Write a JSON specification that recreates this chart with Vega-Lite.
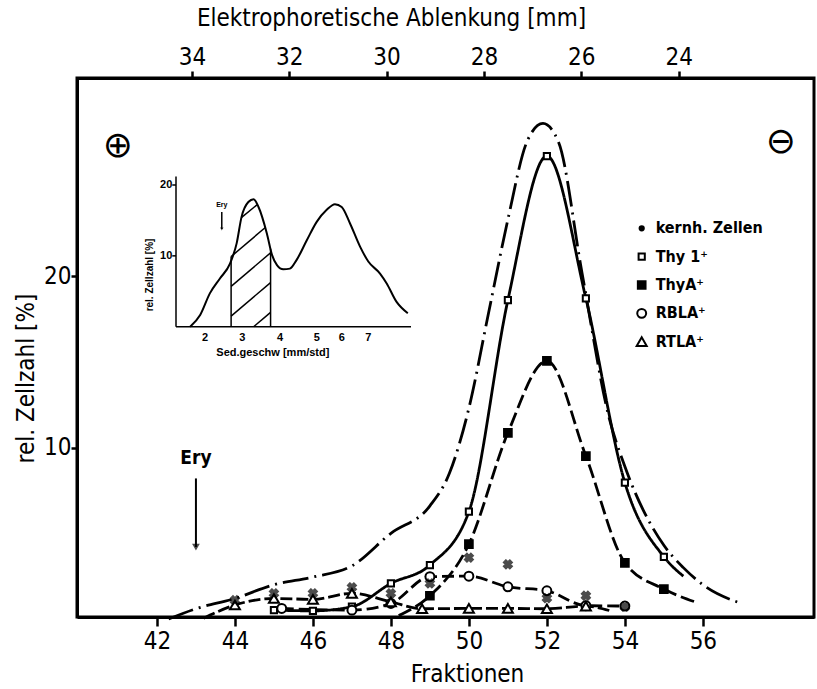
{
  "$schema": "https://vega.github.io/schema/vega-lite/v6.json",
  "width": 737,
  "height": 539,
  "autosize": "none",
  "padding": {"left": 77, "top": 78, "right": 3, "bottom": 72},
  "background": "white",
  "config": {
    "view": {"stroke": "black", "strokeWidth": 3},
    "font": "DejaVu Sans Condensed",
    "axis": {
      "labelFont": "DejaVu Sans Condensed",
      "labelFontSize": 24,
      "labelColor": "black",
      "titleFont": "DejaVu Sans Condensed",
      "titleFontSize": 24,
      "titleFontWeight": "normal",
      "titleColor": "black",
      "domainColor": "black",
      "domainWidth": 3,
      "tickColor": "black",
      "tickWidth": 2.5,
      "grid": false
    }
  },
  "datasets": {
    "curves": [
      {"s": "kernh. Zellen", "f": 42.3, "v": 0},
      {"s": "kernh. Zellen", "f": 43, "v": 0.6},
      {"s": "kernh. Zellen", "f": 44, "v": 1.2},
      {"s": "kernh. Zellen", "f": 45, "v": 2.0},
      {"s": "kernh. Zellen", "f": 46, "v": 2.45},
      {"s": "kernh. Zellen", "f": 47, "v": 3.1},
      {"s": "kernh. Zellen", "f": 48, "v": 5.0},
      {"s": "kernh. Zellen", "f": 49, "v": 6.6},
      {"s": "kernh. Zellen", "f": 49.5, "v": 8.5},
      {"s": "kernh. Zellen", "f": 50, "v": 12.3},
      {"s": "kernh. Zellen", "f": 50.5, "v": 17.8},
      {"s": "kernh. Zellen", "f": 51, "v": 23.3},
      {"s": "kernh. Zellen", "f": 51.5, "v": 27.9},
      {"s": "kernh. Zellen", "f": 51.9, "v": 28.9},
      {"s": "kernh. Zellen", "f": 52.3, "v": 27.8},
      {"s": "kernh. Zellen", "f": 52.9, "v": 20.2},
      {"s": "kernh. Zellen", "f": 53.6, "v": 11.7},
      {"s": "kernh. Zellen", "f": 54, "v": 8.9},
      {"s": "kernh. Zellen", "f": 55, "v": 4.3},
      {"s": "kernh. Zellen", "f": 55.5, "v": 3.0},
      {"s": "kernh. Zellen", "f": 56, "v": 2.0},
      {"s": "kernh. Zellen", "f": 57, "v": 0.9},
      {"s": "Thy 1⁺", "f": 45, "v": 0.52},
      {"s": "Thy 1⁺", "f": 46, "v": 0.48},
      {"s": "Thy 1⁺", "f": 47, "v": 0.72},
      {"s": "Thy 1⁺", "f": 48, "v": 2.08},
      {"s": "Thy 1⁺", "f": 49, "v": 3.15},
      {"s": "Thy 1⁺", "f": 50, "v": 6.26},
      {"s": "Thy 1⁺", "f": 51, "v": 18.6},
      {"s": "Thy 1⁺", "f": 52, "v": 27.0},
      {"s": "Thy 1⁺", "f": 53, "v": 18.7},
      {"s": "Thy 1⁺", "f": 54, "v": 7.95},
      {"s": "Thy 1⁺", "f": 55, "v": 3.63},
      {"s": "Thy 1⁺", "f": 55.5, "v": 2.5},
      {"s": "ThyA⁺", "f": 48.2, "v": 0.2},
      {"s": "ThyA⁺", "f": 49, "v": 1.36},
      {"s": "ThyA⁺", "f": 50, "v": 4.37},
      {"s": "ThyA⁺", "f": 51, "v": 10.86},
      {"s": "ThyA⁺", "f": 52, "v": 15.06},
      {"s": "ThyA⁺", "f": 53, "v": 9.5},
      {"s": "ThyA⁺", "f": 54, "v": 3.28},
      {"s": "ThyA⁺", "f": 55, "v": 1.75},
      {"s": "ThyA⁺", "f": 55.8, "v": 1.0},
      {"s": "RBLA⁺", "f": 45.2, "v": 0.62},
      {"s": "RBLA⁺", "f": 47, "v": 0.52},
      {"s": "RBLA⁺", "f": 48, "v": 0.91},
      {"s": "RBLA⁺", "f": 49, "v": 2.47},
      {"s": "RBLA⁺", "f": 50, "v": 2.5},
      {"s": "RBLA⁺", "f": 51, "v": 1.88},
      {"s": "RBLA⁺", "f": 52, "v": 1.65},
      {"s": "RBLA⁺", "f": 53, "v": 0.78},
      {"s": "RBLA⁺", "f": 54, "v": 0.76},
      {"s": "RTLA⁺", "f": 43.2, "v": 0.05},
      {"s": "RTLA⁺", "f": 44, "v": 0.82},
      {"s": "RTLA⁺", "f": 45, "v": 1.2},
      {"s": "RTLA⁺", "f": 46, "v": 1.15},
      {"s": "RTLA⁺", "f": 47, "v": 1.5},
      {"s": "RTLA⁺", "f": 48, "v": 1.0},
      {"s": "RTLA⁺", "f": 48.8, "v": 0.6},
      {"s": "RTLA⁺", "f": 50, "v": 0.62},
      {"s": "RTLA⁺", "f": 51, "v": 0.62},
      {"s": "RTLA⁺", "f": 52, "v": 0.6},
      {"s": "RTLA⁺", "f": 53, "v": 0.75},
      {"s": "RTLA⁺", "f": 53.6, "v": 0.5}
    ],
    "markers": [
      {"s": "Thy 1⁺", "f": 45, "v": 0.52},
      {"s": "Thy 1⁺", "f": 46, "v": 0.48},
      {"s": "Thy 1⁺", "f": 47, "v": 0.72},
      {"s": "Thy 1⁺", "f": 48, "v": 2.08},
      {"s": "Thy 1⁺", "f": 49, "v": 3.15},
      {"s": "Thy 1⁺", "f": 50, "v": 6.26},
      {"s": "Thy 1⁺", "f": 51, "v": 18.6},
      {"s": "Thy 1⁺", "f": 52, "v": 27.0},
      {"s": "Thy 1⁺", "f": 53, "v": 18.7},
      {"s": "Thy 1⁺", "f": 54, "v": 7.95},
      {"s": "Thy 1⁺", "f": 55, "v": 3.63},
      {"s": "ThyA⁺", "f": 49, "v": 1.36},
      {"s": "ThyA⁺", "f": 50, "v": 4.37},
      {"s": "ThyA⁺", "f": 51, "v": 10.86},
      {"s": "ThyA⁺", "f": 52, "v": 15.06},
      {"s": "ThyA⁺", "f": 53, "v": 9.5},
      {"s": "ThyA⁺", "f": 54, "v": 3.28},
      {"s": "ThyA⁺", "f": 55, "v": 1.75},
      {"s": "RBLA⁺", "f": 45.2, "v": 0.62},
      {"s": "RBLA⁺", "f": 47, "v": 0.52},
      {"s": "RBLA⁺", "f": 48, "v": 0.91},
      {"s": "RBLA⁺", "f": 49, "v": 2.47},
      {"s": "RBLA⁺", "f": 50, "v": 2.5},
      {"s": "RBLA⁺", "f": 51, "v": 1.88},
      {"s": "RBLA⁺", "f": 52, "v": 1.65},
      {"s": "RBLA⁺", "f": 53, "v": 0.78},
      {"s": "RBLA⁺", "f": 54, "v": 0.76},
      {"s": "RTLA⁺", "f": 44, "v": 0.82},
      {"s": "RTLA⁺", "f": 45, "v": 1.2},
      {"s": "RTLA⁺", "f": 46, "v": 1.15},
      {"s": "RTLA⁺", "f": 47, "v": 1.5},
      {"s": "RTLA⁺", "f": 48, "v": 1.0},
      {"s": "RTLA⁺", "f": 48.8, "v": 0.6},
      {"s": "RTLA⁺", "f": 50, "v": 0.62},
      {"s": "RTLA⁺", "f": 51, "v": 0.62},
      {"s": "RTLA⁺", "f": 52, "v": 0.6},
      {"s": "RTLA⁺", "f": 53, "v": 0.75}
    ],
    "legendRows": [
      {"s": "kernh. Zellen"},
      {"s": "Thy 1⁺"},
      {"s": "ThyA⁺"},
      {"s": "RBLA⁺"},
      {"s": "RTLA⁺"}
    ],
    "crosses": [
      {"f": 44, "v": 1.1},
      {"f": 45, "v": 1.5},
      {"f": 46, "v": 1.5},
      {"f": 47, "v": 1.85},
      {"f": 48, "v": 1.5},
      {"f": 49, "v": 2.08},
      {"f": 50, "v": 3.58},
      {"f": 51, "v": 3.19},
      {"f": 52, "v": 1.22},
      {"f": 53, "v": 1.36},
      {"f": 54, "v": 0.72}
    ],
    "poles": [
      {"t": "⊕", "f": 41.0, "v": 27.6},
      {"t": "⊖", "f": 58.0, "v": 27.8}
    ],
    "ery": [{"t": "Ery", "f": 43.0, "v": 9.4, "v2": 4.2, "vt": 8.2}],
    "sed": [
      {"sed": 1.6, "z": 0},
      {"sed": 1.87, "z": 1.65},
      {"sed": 2.13, "z": 4.7},
      {"sed": 2.4, "z": 6.8},
      {"sed": 2.67, "z": 8.9},
      {"sed": 2.85, "z": 11.8},
      {"sed": 2.98, "z": 15.5},
      {"sed": 3.16, "z": 17.6},
      {"sed": 3.3, "z": 18.0},
      {"sed": 3.43, "z": 16.9},
      {"sed": 3.65, "z": 13.2},
      {"sed": 3.79, "z": 10.1},
      {"sed": 3.92, "z": 8.7},
      {"sed": 4.09, "z": 8.1},
      {"sed": 4.27, "z": 8.2},
      {"sed": 4.45, "z": 9.4},
      {"sed": 4.73, "z": 12.2},
      {"sed": 5.0, "z": 14.8},
      {"sed": 5.4, "z": 16.5},
      {"sed": 5.73, "z": 17.3},
      {"sed": 6.0, "z": 16.9},
      {"sed": 6.31, "z": 14.6},
      {"sed": 6.69, "z": 11.3},
      {"sed": 7.0, "z": 9.2},
      {"sed": 7.44, "z": 7.5},
      {"sed": 7.69, "z": 6.1},
      {"sed": 8.06, "z": 3.5},
      {"sed": 8.48, "z": 1.9}
    ],
    "insetLines": [
      {"a": 1.22, "b": 0, "a2": 8.6, "b2": 0},
      {"a": 1.22, "b": 0, "a2": 1.22, "b2": 21.2},
      {"a": 1.12, "b": 10, "a2": 1.22, "b2": 10},
      {"a": 1.12, "b": 20, "a2": 1.22, "b2": 20},
      {"a": 2.7, "b": 0, "a2": 2.7, "b2": 9.9},
      {"a": 3.75, "b": 0, "a2": 3.75, "b2": 11.0},
      {"a": 3.3, "b": 0, "a2": 3.75, "b2": 2.03},
      {"a": 2.7, "b": 1.5, "a2": 3.75, "b2": 6.23},
      {"a": 2.7, "b": 5.7, "a2": 3.75, "b2": 10.43},
      {"a": 2.7, "b": 9.9, "a2": 3.61, "b2": 14.0},
      {"a": 2.975, "b": 15.4, "a2": 3.39, "b2": 17.2},
      {"a": 2.45, "b": 16.2, "a2": 2.45, "b2": 13.8}
    ],
    "insetXLabels": [
      {"sed": 2, "z": -1.6, "t": "2"},
      {"sed": 3, "z": -1.6, "t": "3"},
      {"sed": 4, "z": -1.6, "t": "4"},
      {"sed": 5, "z": -1.6, "t": "5"},
      {"sed": 6, "z": -1.6, "t": "6"},
      {"sed": 7, "z": -1.6, "t": "7"},
      {"sed": 3.81, "z": -3.67, "t": "Sed.geschw   [mm/std]"}
    ],
    "insetYLabels": [
      {"sed": 1.12, "z": 10, "t": "10"},
      {"sed": 1.12, "z": 20, "t": "20"}
    ],
    "insetYTitle": [{"sed": 0.52, "z": 7.3, "t": "rel. Zellzahl [%]"}],
    "insetEry": [{"sed": 2.45, "z": 17.2, "t": "Ery", "zh": 13.8}],
    "mmTicks": [{"mm": 24}, {"mm": 34}]
  },
  "layer": [
    {
      "layer": [
        {
          "data": {"name": "curves"},
          "mark": {"type": "line", "interpolate": "monotone", "color": "black", "strokeWidth": 2.8},
          "encoding": {
            "x": {
              "field": "f", "type": "quantitative",
              "scale": {"domain": [39.95, 58.85], "nice": false, "zero": false},
              "axis": {
                "values": [42, 44, 46, 48, 50, 52, 54, 56],
                "title": "Fraktionen",
                "tickSize": 9,
                "labelPadding": 3,
                "titleX": 390,
                "titleY": 57,
                "titleAlign": "center",
                "titleBaseline": "middle"
              }
            },
            "y": {
              "field": "v", "type": "quantitative",
              "scale": {"domain": [0.12, 31.55], "nice": false, "zero": false},
              "axis": {
                "values": [10, 20],
                "title": "rel. Zellzahl [%]",
                "tickSize": 6,
                "labelPadding": 0,
                "titleX": -51,
                "titleY": 300,
                "titleAlign": "center",
                "titleBaseline": "middle"
              }
            },
            "strokeDash": {
              "field": "s", "type": "nominal",
              "scale": {
                "domain": ["kernh. Zellen", "Thy 1⁺", "ThyA⁺", "RBLA⁺", "RTLA⁺"],
                "range": [[26, 6, 2, 6], [1, 0], [14, 5], [12, 5], [12, 4]]
              },
              "legend": null
            }
          }
        },
        {
          "data": {"name": "markers"},
          "mark": {"type": "point", "filled": true, "stroke": "black", "strokeWidth": 2, "opacity": 1},
          "encoding": {
            "x": {"field": "f", "type": "quantitative"},
            "y": {"field": "v", "type": "quantitative"},
            "shape": {
              "field": "s", "type": "nominal",
              "scale": {
                "domain": ["kernh. Zellen", "Thy 1⁺", "ThyA⁺", "RBLA⁺", "RTLA⁺"],
                "range": ["circle", "square", "square", "circle", "triangle-up"]
              },
              "legend": null
            },
            "fill": {
              "field": "s", "type": "nominal",
              "scale": {
                "domain": ["kernh. Zellen", "Thy 1⁺", "ThyA⁺", "RBLA⁺", "RTLA⁺"],
                "range": ["black", "white", "black", "white", "white"]
              },
              "legend": null
            },
            "size": {
              "field": "s", "type": "ordinal",
              "scale": {
                "domain": ["kernh. Zellen", "Thy 1⁺", "ThyA⁺", "RBLA⁺", "RTLA⁺"],
                "range": [18, 100, 100, 90, 110]
              },
              "legend": null
            }
          }
        },
        {
          "data": {"name": "crosses"},
          "mark": {"type": "point", "shape": "cross", "angle": 45, "filled": true, "color": "black", "stroke": "black", "strokeWidth": 1.2, "size": 85},
          "encoding": {
            "x": {"field": "f", "type": "quantitative"},
            "y": {"field": "v", "type": "quantitative"}
          }
        },
        {
          "data": {"name": "poles"},
          "mark": {"type": "text", "font": "DejaVu Sans", "fontSize": 36, "color": "black", "align": "center", "baseline": "middle"},
          "encoding": {
            "x": {"field": "f", "type": "quantitative"},
            "y": {"field": "v", "type": "quantitative"},
            "text": {"field": "t"}
          }
        },
        {
          "data": {"name": "ery"},
          "mark": {"type": "text", "font": "DejaVu Sans Condensed", "fontSize": 19, "fontWeight": "bold", "color": "black", "align": "center", "baseline": "middle"},
          "encoding": {
            "x": {"field": "f", "type": "quantitative"},
            "y": {"field": "v", "type": "quantitative"},
            "text": {"field": "t"}
          }
        },
        {
          "data": {"name": "ery"},
          "mark": {"type": "rule", "color": "black", "strokeWidth": 2},
          "encoding": {
            "x": {"field": "f", "type": "quantitative"},
            "y": {"field": "vt", "type": "quantitative"},
            "y2": {"field": "v2"}
          }
        },
        {
          "data": {"name": "ery"},
          "mark": {"type": "point", "shape": "triangle-down", "filled": true, "color": "black", "size": 60},
          "encoding": {
            "x": {"field": "f", "type": "quantitative"},
            "y": {"field": "v2", "type": "quantitative"}
          }
        }
      ]
    },
    {
      "data": {"name": "legendRows"},
      "layer": [
        {
          "mark": {"type": "point", "filled": true, "stroke": "black", "strokeWidth": 2, "opacity": 1},
          "encoding": {
            "x": {"datum": 0, "type": "quantitative", "scale": {"domain": [0, 1], "range": [564.7, 600], "nice": false, "zero": false}, "axis": null},
            "y": {"field": "s", "type": "nominal", "sort": null, "scale": {"type": "point", "domain": ["kernh. Zellen", "Thy 1⁺", "ThyA⁺", "RBLA⁺", "RTLA⁺"], "range": [150.3, 263.7], "padding": 0}, "axis": null},
            "shape": {"field": "s", "type": "nominal", "legend": null},
            "fill": {"field": "s", "type": "nominal", "legend": null},
            "size": {"field": "s", "type": "ordinal", "legend": null}
          }
        },
        {
          "mark": {"type": "text", "align": "left", "baseline": "middle", "dx": 14, "font": "DejaVu Sans Condensed", "fontWeight": "bold", "fontSize": 16, "color": "black"},
          "encoding": {
            "x": {"datum": 0, "type": "quantitative"},
            "y": {"field": "s", "type": "nominal", "sort": null},
            "text": {"field": "s"}
          }
        }
      ]
    },
    {
      "layer": [
        {
          "data": {"name": "sed"},
          "mark": {"type": "line", "interpolate": "monotone", "color": "black", "strokeWidth": 2},
          "encoding": {
            "x": {
              "field": "sed", "type": "quantitative",
              "scale": {"domain": [1.22, 2, 3, 4, 5, 6, 7, 8.6], "range": [99, 128, 165.3, 203, 239.7, 264.7, 291.3, 334], "nice": false, "zero": false},
              "axis": null
            },
            "y": {
              "field": "z", "type": "quantitative",
              "scale": {"domain": [0, 20], "range": [248.7, 107], "nice": false, "zero": false},
              "axis": null
            }
          }
        },
        {
          "data": {"name": "insetLines"},
          "mark": {"type": "rule", "color": "black", "strokeWidth": 1.5},
          "encoding": {
            "x": {"field": "a", "type": "quantitative"},
            "y": {"field": "b", "type": "quantitative"},
            "x2": {"field": "a2"},
            "y2": {"field": "b2"}
          }
        },
        {
          "data": {"name": "insetXLabels"},
          "mark": {"type": "text", "font": "Liberation Sans", "fontSize": 11, "fontWeight": "bold", "color": "black", "align": "center", "baseline": "middle"},
          "encoding": {
            "x": {"field": "sed", "type": "quantitative"},
            "y": {"field": "z", "type": "quantitative"},
            "text": {"field": "t"}
          }
        },
        {
          "data": {"name": "insetYLabels"},
          "mark": {"type": "text", "font": "Liberation Sans", "fontSize": 11, "fontWeight": "bold", "color": "black", "align": "right", "baseline": "middle"},
          "encoding": {
            "x": {"field": "sed", "type": "quantitative"},
            "y": {"field": "z", "type": "quantitative"},
            "text": {"field": "t"}
          }
        },
        {
          "data": {"name": "insetYTitle"},
          "mark": {"type": "text", "font": "Liberation Sans", "fontSize": 10, "fontWeight": "bold", "color": "black", "align": "center", "baseline": "middle", "angle": 270},
          "encoding": {
            "x": {"field": "sed", "type": "quantitative"},
            "y": {"field": "z", "type": "quantitative"},
            "text": {"field": "t"}
          }
        },
        {
          "data": {"name": "insetEry"},
          "mark": {"type": "text", "font": "Liberation Sans", "fontSize": 7, "fontWeight": "bold", "color": "black", "align": "center", "baseline": "middle"},
          "encoding": {
            "x": {"field": "sed", "type": "quantitative"},
            "y": {"field": "z", "type": "quantitative"},
            "text": {"field": "t"}
          }
        },
        {
          "data": {"name": "insetEry"},
          "mark": {"type": "point", "shape": "triangle-down", "filled": true, "color": "black", "size": 12},
          "encoding": {
            "x": {"field": "sed", "type": "quantitative"},
            "y": {"field": "zh", "type": "quantitative"}
          }
        }
      ]
    },
    {
      "data": {"name": "mmTicks"},
      "mark": {"type": "point", "opacity": 0},
      "encoding": {
        "x": {
          "field": "mm", "type": "quantitative",
          "scale": {"domain": [21.22, 36.36], "reverse": true, "nice": false, "zero": false},
          "axis": {
            "orient": "top",
            "values": [24, 26, 28, 30, 32, 34],
            "title": "Elektrophoretische Ablenkung [mm]",
            "tickSize": 7,
            "labelPadding": 2,
            "titleX": 314,
            "titleY": -60,
            "titleAlign": "center",
            "titleBaseline": "middle"
          }
        }
      }
    }
  ],
  "resolve": {"scale": {"x": "independent", "y": "independent"}}
}
